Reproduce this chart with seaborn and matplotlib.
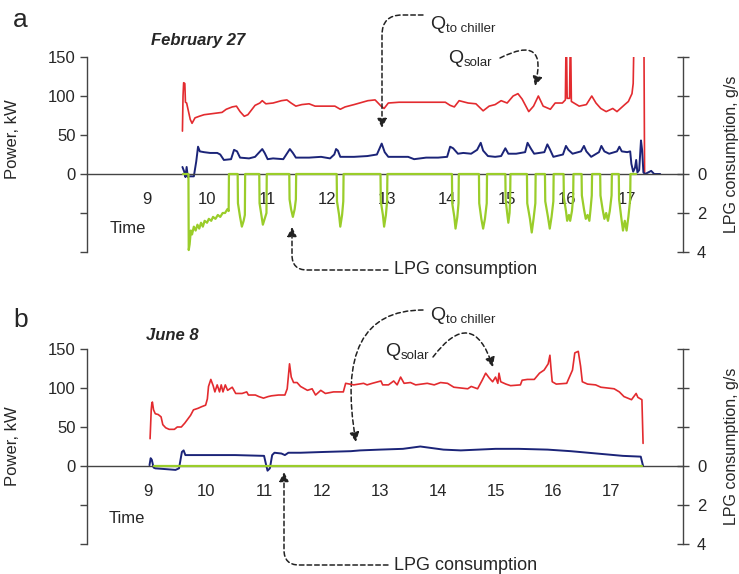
import matplotlib
matplotlib.use("Agg")
import matplotlib.pyplot as plt
import seaborn as sns
import pandas as pd

# ---------------- DATA ----------------
hours = [9, 10, 11, 12, 13, 14, 15, 16, 17]
power_ticks = [-100, -50, 0, 50, 100, 150]
power_labels = ["", "", "0", "50", "100", "150"]
lpg_ticks = [4, 2, 0, -2, -4, -6]
lpg_labels = ["4", "2", "0", "", "", ""]

# Panel a: February 27
a_solar_t = [9.59, 9.60, 9.61, 9.63, 9.64, 9.66, 9.72, 9.75, 9.80, 9.87, 9.95, 10.05, 10.15, 10.25,
             10.32, 10.42, 10.49, 10.55, 10.62, 10.68, 10.75, 10.80, 10.88, 10.92, 10.98, 11.10,
             11.24, 11.33, 11.40, 11.48, 11.58, 11.70, 11.80, 11.95, 12.13, 12.22, 12.30, 12.45,
             12.68, 12.80, 12.90, 12.95, 13.02, 13.20, 13.50, 13.80, 13.97, 14.05, 14.12, 14.20,
             14.35, 14.48, 14.60, 14.70, 14.80, 14.90, 15.00, 15.10, 15.18, 15.25, 15.36, 15.44,
             15.52, 15.60, 15.72, 15.80, 15.92, 15.97, 15.98, 15.99, 16.00, 16.04, 16.05, 16.06,
             16.07, 16.20, 16.32, 16.41, 16.48, 16.56, 16.65, 16.76, 16.83, 16.96, 17.02, 17.08,
             17.10, 17.11, 17.28, 17.29, 17.30]
a_solar_p = [55, 100, 117, 116, 92, 91, 70, 65, 72, 74, 76, 77, 78, 79,
             83, 86, 87, 80, 74, 76, 83, 88, 91, 94, 90, 91,
             94, 95, 91, 87, 89, 90, 87, 87, 87, 83, 86, 89,
             94, 95, 87, 84, 91, 92, 92, 92, 92, 88, 86, 94,
             91, 90, 81, 87, 89, 94, 91, 100, 103, 96, 80, 87,
             100, 87, 83, 91, 91, 95, 160, 160, 97, 97, 160, 160,
             93, 87, 89, 100, 91, 84, 80, 84, 80, 89, 93, 103,
             116, 160, 160, 0, 0]

a_chiller_t = [9.59, 9.62, 9.64, 9.66, 9.68, 9.70, 9.78, 9.82, 9.85, 9.88, 9.95, 10.05, 10.17,
               10.22, 10.28, 10.40, 10.45, 10.50, 10.55, 10.70, 10.80, 10.92, 10.96, 11.01, 11.10,
               11.27, 11.38, 11.43, 11.48, 11.70, 11.90, 12.05, 12.12, 12.15, 12.18, 12.22, 12.45,
               12.67, 12.83, 12.91, 12.96, 13.02, 13.35, 13.45, 13.65, 13.85, 14.00, 14.05, 14.10,
               14.18, 14.27, 14.40, 14.50, 14.56, 14.60, 14.68, 14.80, 14.90, 14.97, 15.02, 15.15,
               15.30, 15.34, 15.40, 15.45, 15.62, 15.67, 15.71, 15.77, 15.93, 15.98, 16.02, 16.09,
               16.23, 16.28, 16.32, 16.40, 16.53, 16.57, 16.62, 16.70, 16.83, 16.87, 16.91, 17.00,
               17.05, 17.07, 17.10, 17.13, 17.15, 17.17, 17.20, 17.23, 17.25, 17.27, 17.30, 17.40,
               17.45, 17.55]
a_chiller_p = [9, 3, -4, 9, -4, -3, -3, 16, 35, 29, 28, 27, 27,
               25, 18, 19, 31, 29, 21, 20, 22, 32, 27, 19, 20,
               19, 32, 27, 21, 21, 22, 20, 25, 32, 30, 22, 22,
               23, 25, 39, 28, 22, 22, 19, 21, 21, 22, 35, 33,
               26, 27, 26, 31, 40, 30, 23, 22, 23, 33, 26, 26,
               28, 40, 32, 26, 28, 38, 32, 22, 25, 36, 31, 26,
               29, 36, 29, 22, 28, 36, 29, 26, 29, 35, 29, 28,
               29, 13, 3, 8, 18, 2, 5, 43, 30, 2, 0, 4,
               0, 0]

a_lpg_t = [9.60, 9.69, 9.695, 9.71, 9.73, 9.75, 9.78, 9.81, 9.84, 9.87, 9.90, 9.93, 9.96, 10.00,
           10.03, 10.07, 10.10, 10.14, 10.18, 10.22, 10.26, 10.30, 10.34, 10.36, 10.365,
           10.51, 10.515, 10.55, 10.58, 10.61, 10.63, 10.635,
           10.87, 10.875, 10.91, 10.93, 10.96, 10.99, 10.995,
           11.37, 11.375, 11.40, 11.43, 11.46, 11.48, 11.485,
           12.16, 12.165, 12.20, 12.22, 12.25, 12.27, 12.275,
           12.89, 12.895, 12.93, 12.95, 12.98, 13.00, 13.005,
           14.08, 14.085, 14.12, 14.14, 14.17, 14.19, 14.195,
           14.53, 14.535, 14.57, 14.60, 14.63, 14.66, 14.665,
           14.97, 14.975, 15.00, 15.02, 15.04, 15.05, 15.055,
           15.33, 15.335, 15.38, 15.41, 15.44, 15.47, 15.475,
           15.63, 15.635, 15.68, 15.71, 15.74, 15.77, 15.775,
           15.94, 15.945, 15.98, 16.00, 16.03, 16.05, 16.08, 16.10, 16.105,
           16.24, 16.245, 16.28, 16.31, 16.34, 16.37, 16.39, 16.41, 16.415,
           16.55, 16.555, 16.59, 16.62, 16.65, 16.68, 16.71, 16.74, 16.745,
           16.86, 16.865, 16.90, 16.93, 16.96, 16.99, 17.02, 17.05, 17.055, 17.15]
a_lpg_v = [0, 0, 3.9, 3.6, 2.9, 3.1, 2.7, 2.9, 2.6, 2.8, 2.5, 2.7, 2.4, 2.5,
           2.3, 2.4, 2.2, 2.3, 2.1, 2.2, 2.0, 2.0, 1.8, 1.9, 0,
           0, 1.5, 2.2, 2.7, 2.4, 2.1, 0,
           0, 1.5, 2.2, 2.6, 2.3, 2.0, 0,
           0, 1.3, 1.8, 2.2, 1.8, 1.3, 0,
           0, 1.4, 2.1, 2.7, 2.1, 1.4, 0,
           0, 1.4, 2.1, 2.7, 2.1, 1.4, 0,
           0, 1.5, 2.2, 2.8, 2.2, 1.5, 0,
           0, 1.5, 2.3, 2.8, 2.3, 1.5, 0,
           0, 1.3, 2.0, 2.5, 2.0, 1.3, 0,
           0, 1.5, 2.3, 3.0, 2.3, 1.5, 0,
           0, 1.4, 2.2, 2.8, 2.2, 1.4, 0,
           0, 1.2, 1.9, 2.4, 2.1, 2.4, 1.9, 1.2, 0,
           0, 1.1, 1.8, 2.3, 2.1, 2.4, 1.8, 1.1, 0,
           0, 1.1, 1.8, 2.3, 2.0, 2.4, 1.9, 1.1, 0,
           0, 1.3, 2.2, 2.9, 2.4, 2.9, 2.2, 1.3, 0, 0]

# Panel b: June 8
b_solar_t = [9.03, 9.05, 9.06, 9.07, 9.09, 9.12, 9.17, 9.22, 9.25, 9.30, 9.36, 9.45, 9.50, 9.57,
             9.63, 9.73, 9.78, 9.86, 9.92, 9.99, 10.02, 10.04, 10.08, 10.12, 10.15, 10.19, 10.23,
             10.26, 10.29, 10.33, 10.37, 10.45, 10.51, 10.62, 10.70, 10.73, 10.85, 10.91, 10.99,
             11.07, 11.13, 11.25, 11.36, 11.40, 11.44, 11.47, 11.51, 11.57, 11.63, 11.75, 11.83,
             11.89, 11.98, 12.06, 12.20, 12.37, 12.41, 12.55, 12.72, 12.78, 12.87, 13.02, 13.05,
             13.15, 13.24, 13.30, 13.36, 13.42, 13.53, 13.62, 13.82, 13.94, 14.05, 14.17, 14.28,
             14.40, 14.52, 14.58, 14.69, 14.77, 14.83, 14.89, 14.95, 15.00, 15.04, 15.06, 15.09,
             15.18, 15.26, 15.43, 15.46, 15.55, 15.67, 15.76, 15.84, 15.91, 15.94, 15.96, 15.98,
             16.05, 16.23, 16.33, 16.37, 16.43, 16.47, 16.50, 16.59, 16.73, 16.82, 17.05, 17.14,
             17.22, 17.35, 17.40, 17.43, 17.46, 17.53, 17.55]
b_solar_p = [35, 72, 80, 82, 72, 67, 66, 63, 53, 49, 47, 47, 50, 50,
             55, 65, 72, 74, 76, 78, 86, 102, 111, 103, 95, 104, 95,
             104, 95, 104, 97, 101, 93, 93, 95, 91, 91, 89, 87,
             89, 90, 91, 91, 99, 131, 114, 107, 107, 102, 97, 99,
             91, 97, 93, 95, 95, 106, 104, 106, 104, 106, 109, 104,
             104, 109, 104, 114, 106, 107, 104, 106, 104, 107, 106, 101,
             100, 99, 102, 99, 110, 119, 113, 108, 114, 106, 119, 108,
             105, 103, 104, 110, 111, 111, 119, 123, 131, 142, 124, 108,
             105, 106, 123, 145, 147, 128, 108, 105, 104, 101, 99, 95,
             89, 85, 90, 93, 88, 85, 29]

b_chiller_t = [9.02, 9.04, 9.06, 9.09, 9.12, 9.30, 9.47, 9.53, 9.58, 9.61, 9.64, 10.50, 11.00,
               11.04, 11.06, 11.10, 11.14, 11.18, 11.30, 11.36, 11.42, 11.63, 12.03, 12.50, 12.66,
               13.00, 13.40, 13.70, 13.90, 14.10, 14.40, 14.70, 15.00, 15.40, 15.90, 16.30, 16.60,
               16.90, 17.20, 17.51, 17.55]
b_chiller_p = [1, 10, 8, -2, -3, -4, -5, -3, 18, 20, 14, 14, 13,
               0, -6, -3, 14, 17, 16, 14, 17, 17, 18, 19, 20,
               21, 22, 25, 23, 21, 20, 21, 22, 22, 21, 19, 17,
               15, 13, 12, 0]

b_lpg_t = [9.10, 17.54]
b_lpg_v = [0, 0]

# ---------------- STYLE ----------------
sns.set_style("white")
plt.rcParams["font.family"] = ["Liberation Sans", "DejaVu Sans"]

RED = "#e32b2f"
BLUE = "#1b2478"
GREEN = "#9acd2a"
AXC = "#444444"

W, H = 739, 574
fig = plt.figure(figsize=(W / 100, H / 100), dpi=100)


def fx(x):
    return x / W


def fy(y):
    return 1 - y / H


def make_panel(top_px, bottom_px, xlim, solar_t, solar_p, ch_t, ch_p, lpg_t, lpg_v,
               ylab_frac, title, title_xy, time_xy):
    ax = fig.add_axes([fx(87), fy(bottom_px), (683 - 87) / W, (bottom_px - top_px) / H])
    ax.patch.set_alpha(0)
    sns.lineplot(x=solar_t, y=solar_p, ax=ax, color=RED, linewidth=1.2,
                 estimator=None, sort=False)
    sns.lineplot(x=ch_t, y=ch_p, ax=ax, color=BLUE, linewidth=1.4,
                 estimator=None, sort=False)
    ax.set_xlim(*xlim)
    ax.set_ylim(-100, 150)
    ax.set_yticks(power_ticks)
    ax.set_yticklabels(power_labels)
    ax.set_xticks(hours)
    ax.set_xticklabels([str(h) for h in hours])
    for s in ["top", "right"]:
        ax.spines[s].set_visible(False)
    ax.spines["bottom"].set_position(("data", 0))
    for s in ["left", "bottom"]:
        ax.spines[s].set_color(AXC)
        ax.spines[s].set_linewidth(1.0)
    ax.tick_params(axis="y", direction="out", length=5, width=1, color=AXC,
                   labelsize=12, pad=3)
    ax.tick_params(axis="x", direction="out", length=4, width=1, color=AXC,
                   labelsize=12, pad=9)
    ax.set_xlabel("")
    ax.set_ylabel("Power, kW", fontsize=12)
    ax.yaxis.set_label_coords(-0.112, ylab_frac)

    ax2 = ax.twinx()
    sns.lineplot(x=lpg_t, y=lpg_v, ax=ax2, color=GREEN, linewidth=1.6,
                 estimator=None, sort=False)
    ax2.set_ylim(4, -6)
    ax2.set_yticks(lpg_ticks)
    ax2.set_yticklabels(lpg_labels)
    for s in ["top", "left", "bottom"]:
        ax2.spines[s].set_visible(False)
    ax2.spines["right"].set_color(AXC)
    ax2.spines["right"].set_linewidth(1.0)
    ax2.tick_params(axis="y", direction="inout", length=8, width=1, color=AXC,
                    labelsize=12, pad=6)
    ax2.set_ylabel("LPG consumption, g/s", fontsize=11.5)
    ax2.yaxis.set_label_coords(1.068, 0.5)
    ax2.set_xlim(*xlim)

    ax.text(time_xy[0], time_xy[1], "Time", fontsize=12, ha="center", va="center")
    fig.text(fx(title_xy[0]), fy(title_xy[1]), title, fontsize=12, fontweight="bold",
             fontstyle="italic", ha="center", va="center")
    return ax, ax2


make_panel(57, 252, (8.0, 17.93), a_solar_t, a_solar_p, a_chiller_t, a_chiller_p,
           a_lpg_t, a_lpg_v, 0.58, "February 27", (198, 40), (8.68, -70))
make_panel(349, 544, (7.94, 18.24), b_solar_t, b_solar_p, b_chiller_t, b_chiller_p,
           b_lpg_t, b_lpg_v, 0.50, "June 8", (172, 335), (8.62, -67))

fig.text(fx(13), fy(20), "a", fontsize=19, ha="left", va="center")
fig.text(fx(13), fy(320), "b", fontsize=19, ha="left", va="center")


def qlabel(x, y_base, sub):
    fig.text(fx(x), fy(y_base), "Q", fontsize=14, ha="left", va="baseline")
    fig.text(fx(x + 15.5), fy(y_base + 3), sub, fontsize=9.5, ha="left", va="baseline")


qlabel(430, 29, "to chiller")
qlabel(448, 63, "solar")
qlabel(430, 320, "to chiller")
qlabel(385, 356, "solar")
fig.text(fx(394), fy(270), "LPG consumption", fontsize=13, ha="left", va="center")
fig.text(fx(394), fy(565), "LPG consumption", fontsize=13, ha="left", va="center")

ann_ax = fig.axes[0]


def arrow(tail, head, conn):
    ann_ax.annotate("", xy=(head[0], H - head[1]), xytext=(tail[0], H - tail[1]),
                    xycoords="figure pixels", textcoords="figure pixels",
                    annotation_clip=False,
                    arrowprops=dict(arrowstyle="-|>", linestyle=(0, (3, 2)), color="#222222",
                                    lw=1.1, mutation_scale=14, shrinkA=0, shrinkB=0,
                                    connectionstyle=conn))


arrow((423, 15), (382, 128), "angle,angleA=180,angleB=90,rad=20")
arrow((500, 58), (535, 86), "arc3,rad=-1.1")
arrow((388, 270), (292, 227), "angle,angleA=180,angleB=90,rad=15")
arrow((423, 310), (356, 442), "angle3,angleA=180,angleB=100")
arrow((433, 357), (493, 367), "arc3,rad=-0.95")
arrow((388, 565), (284, 472), "angle,angleA=180,angleB=90,rad=15")

fig.savefig("out.png", dpi=100)
